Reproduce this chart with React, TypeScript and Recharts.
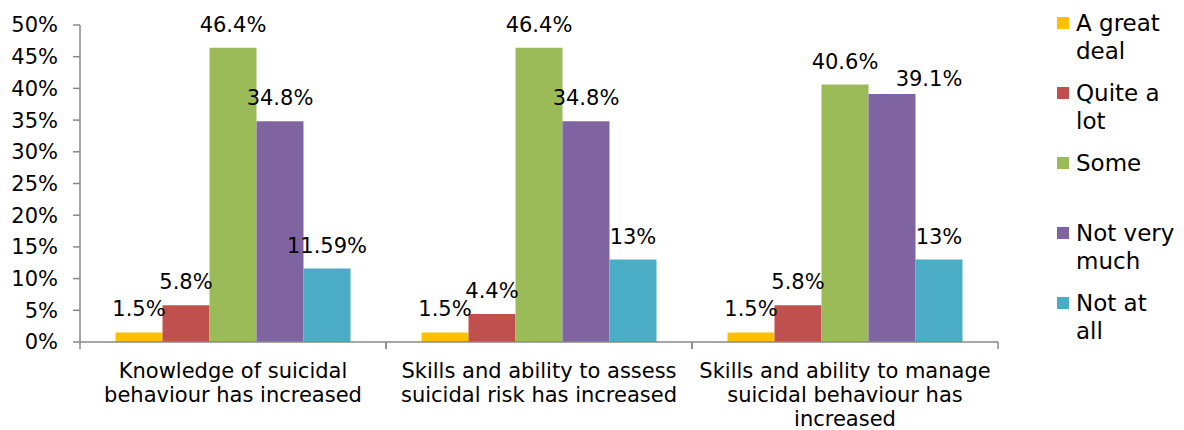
import React from 'react';
import { BarChart, Bar, XAxis, YAxis, Legend, LabelList } from 'recharts';

const categories = [
  'Knowledge of suicidal\nbehaviour has increased',
  'Skills and ability to assess\nsuicidal risk has increased',
  'Skills and ability to manage\nsuicidal behaviour has\nincreased',
];
const seriesNames = ['A great\ndeal', 'Quite a\nlot', 'Some', 'Not very\nmuch', 'Not at\nall'];
const seriesColors = ['#FFC000', '#C0504D', '#9BBB59', '#8064A2', '#4BACC6'];
const aGreatDeal = [1.5, 1.5, 1.5];
const quiteALot = [5.8, 4.4, 5.8];
const some = [46.4, 46.4, 40.6];
const notVeryMuch = [34.8, 34.8, 39.1];
const notAtAll = [11.59, 13, 13];
const yTicks = [0, 5, 10, 15, 20, 25, 30, 35, 40, 45, 50];

const seriesValues = [aGreatDeal, quiteALot, some, notVeryMuch, notAtAll];
const data = categories.map((c, i) => {
  const row: Record<string, any> = { category: c };
  seriesValues.forEach((vals, s) => {
    row['s' + s] = vals[i];
  });
  return row;
});

// label placement tweaks (series index - category index), as in the original layout
const labelNudge: Record<string, { dx: number; dy: number }> = {
  '3-2': { dx: 37, dy: 8 },
};

const FONT = 'DejaVu Sans, Verdana, sans-serif';
const AXIS_COLOR = '#898989';
const LABEL_OFFSET = 16;

const CategoryTick = (props: any) => {
  const { x, y, payload, width, visibleTicksCount } = props;
  const n = visibleTicksCount || categories.length;
  const half = width ? width / n / 2 : 153;
  const lines = String(payload.value).split('\n');
  return (
    <g>
      <line x1={x - half} x2={x - half} y1={y} y2={y + 7} stroke={AXIS_COLOR} strokeWidth={1.5} />
      <line x1={x + half} x2={x + half} y1={y} y2={y + 7} stroke={AXIS_COLOR} strokeWidth={1.5} />
      <text x={x} y={y + 36} textAnchor="middle" fontSize={21} fill="#000" fontFamily={FONT}>
        {lines.map((l, i) => (
          <tspan key={i} x={x} dy={i === 0 ? 0 : 24}>
            {l}
          </tspan>
        ))}
      </text>
    </g>
  );
};

const makeLabel = (s: number) => (props: any) => {
  const { x, y, width, value, index } = props;
  const nudge = labelNudge[`${s}-${index}`] || { dx: 0, dy: 0 };
  return (
    <text
      x={Number(x) + Number(width) / 2 + nudge.dx}
      y={Number(y) - LABEL_OFFSET + nudge.dy}
      textAnchor="middle"
      fontSize={21}
      fill="#000"
      fontFamily={FONT}
    >
      {`${value}%`}
    </text>
  );
};

const renderLegend = (props: any) => {
  const payload = [...(props.payload || [])].sort(
    (a: any, b: any) => seriesNames.indexOf(a.value) - seriesNames.indexOf(b.value)
  );
  return (
    <div style={{ fontFamily: FONT }}>
      {payload.map((entry: any, i: number) => (
        <div key={i} style={{ position: 'relative', height: 70, paddingLeft: 26 }}>
          <span
            style={{
              position: 'absolute',
              left: 7,
              top: 8,
              width: 12,
              height: 12,
              background: entry.color,
            }}
          />
          <div style={{ whiteSpace: 'pre-line', fontSize: 23, lineHeight: '28px', color: '#000' }}>
            {entry.value}
          </div>
        </div>
      ))}
    </div>
  );
};

export default function App() {
  return (
    <div style={{ position: 'absolute', left: 0, top: 0, width: 1184, height: 430, background: '#fff', fontFamily: FONT }}>
      <BarChart
        width={1184}
        height={430}
        data={data}
        margin={{ top: 25, right: 186, bottom: 0, left: 0 }}
        barCategoryGap="11.6%"
        barGap={0}
      >
        <XAxis
          dataKey="category"
          height={88}
          interval={0}
          tickLine={false}
          tickSize={0}
          tickMargin={0}
          stroke={AXIS_COLOR}
          strokeWidth={1.5}
          tick={<CategoryTick />}
        />
        <YAxis
          type="number"
          domain={[0, 50]}
          ticks={yTicks}
          interval={0}
          width={80}
          tickSize={7}
          tickMargin={15}
          stroke={AXIS_COLOR}
          strokeWidth={1.5}
          tick={{ fill: '#000', fontSize: 21, fontFamily: FONT }}
          tickFormatter={(v: number) => `${v}%`}
        />
        <Legend
          layout="vertical"
          align="center"
          verticalAlign="middle"
          itemSorter={null as any}
          wrapperStyle={{ left: 1050, top: 9, width: 134 }}
          content={renderLegend}
        />
        {seriesNames.map((name, s) => (
          <Bar key={s} dataKey={'s' + s} name={name} fill={seriesColors[s]} isAnimationActive={false}>
            <LabelList dataKey={'s' + s} content={makeLabel(s)} />
          </Bar>
        ))}
      </BarChart>
    </div>
  );
}
